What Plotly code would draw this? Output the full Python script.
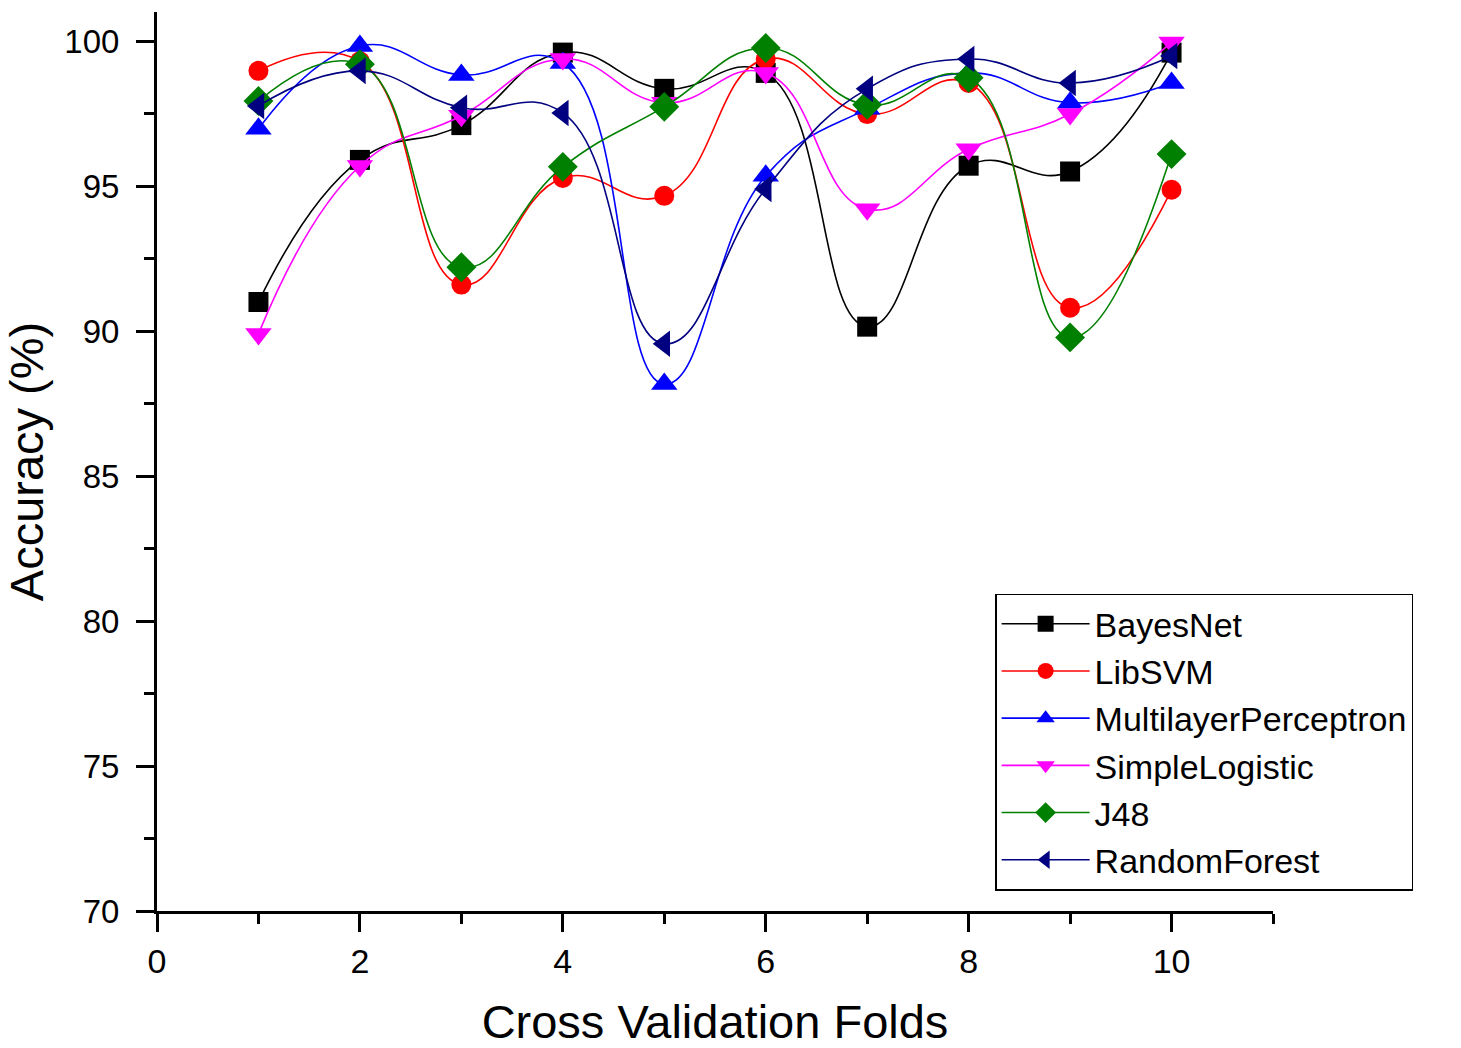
import plotly.graph_objects as go

folds = [1, 2, 3, 4, 5, 6, 7, 8, 9, 10]

bayesnet = [91.0, 95.9, 97.1, 99.6, 98.35, 98.9, 90.15, 95.7, 95.5, 99.6]
libsvm = [98.97, 99.3, 91.6, 95.28, 94.66, 99.38, 97.48, 98.55, 90.8, 94.87]
mlp = [96.97, 99.83, 98.83, 99.24, 88.17, 95.35, 97.66, 98.9, 97.87, 98.55]
simple_logistic = [89.9, 95.69, 97.42, 99.38, 97.87, 98.9, 94.2, 96.27, 97.48, 99.95]
j48 = [97.93, 99.2, 92.2, 95.66, 97.73, 99.76, 97.8, 98.73, 89.78, 96.1]
random_forest = [97.76, 98.97, 97.7, 97.52, 89.56, 94.9, 98.35, 99.38, 98.55, 99.48]

series = [
    ("BayesNet", bayesnet, "#000000", "square"),
    ("LibSVM", libsvm, "#ff0000", "circle"),
    ("MultilayerPerceptron", mlp, "#0000ff", "triangle-up"),
    ("SimpleLogistic", simple_logistic, "#ff00ff", "triangle-down"),
    ("J48", j48, "#008000", "diamond"),
    ("RandomForest", random_forest, "#000080", "triangle-left"),
]

fig = go.Figure()
for name, values, color, symbol in series:
    size = 20 if symbol in ("square", "circle") else 23
    fig.add_trace(go.Scatter(
        x=folds, y=values, name=name, mode="lines+markers",
        line=dict(color=color, width=1.6, shape="spline", smoothing=1.3),
        marker=dict(symbol=symbol, size=size, color=color, line=dict(width=0)),
    ))

font_family = "Liberation Sans, Arial, sans-serif"

fig.update_layout(
    width=1461, height=1048,
    margin=dict(l=157, r=188, t=12, b=137),
    paper_bgcolor="white", plot_bgcolor="white",
    font=dict(family=font_family, color="black"),
    showlegend=True,
    legend=dict(
        x=0.751, y=0.353, xanchor="left", yanchor="top",
        bgcolor="white", bordercolor="black", borderwidth=1.5,
        font=dict(size=34, family=font_family),
        itemwidth=88, tracegroupgap=0,
    ),
    xaxis=dict(
        range=[0, 11], tickmode="array", tickvals=[0, 2, 4, 6, 8, 10],
        ticks="outside", ticklen=18, tickwidth=2.5, tickcolor="black",
        minor=dict(tickvals=[1, 3, 5, 7, 9, 11], ticks="outside", ticklen=10, tickwidth=2.5, tickcolor="black"),
        showline=True, linewidth=3, linecolor="black", showgrid=False, zeroline=False,
        tickfont=dict(size=34), automargin=False,
        title=dict(text="Cross Validation Folds", font=dict(size=47), standoff=36),
    ),
    yaxis=dict(
        range=[70, 101], tickmode="array", tickvals=[70, 75, 80, 85, 90, 95, 100],
        ticks="outside", ticklen=18, tickwidth=2.5, tickcolor="black",
        minor=dict(tickvals=[72.5, 77.5, 82.5, 87.5, 92.5, 97.5], ticks="outside", ticklen=10, tickwidth=2.5, tickcolor="black"),
        showline=True, linewidth=3, linecolor="black", showgrid=False, zeroline=False,
        tickfont=dict(size=33), ticklabelstandoff=10, automargin=False,
        title=dict(text="Accuracy (%)", font=dict(size=47), standoff=8),
    ),
)

fig.write_html("out.html")
